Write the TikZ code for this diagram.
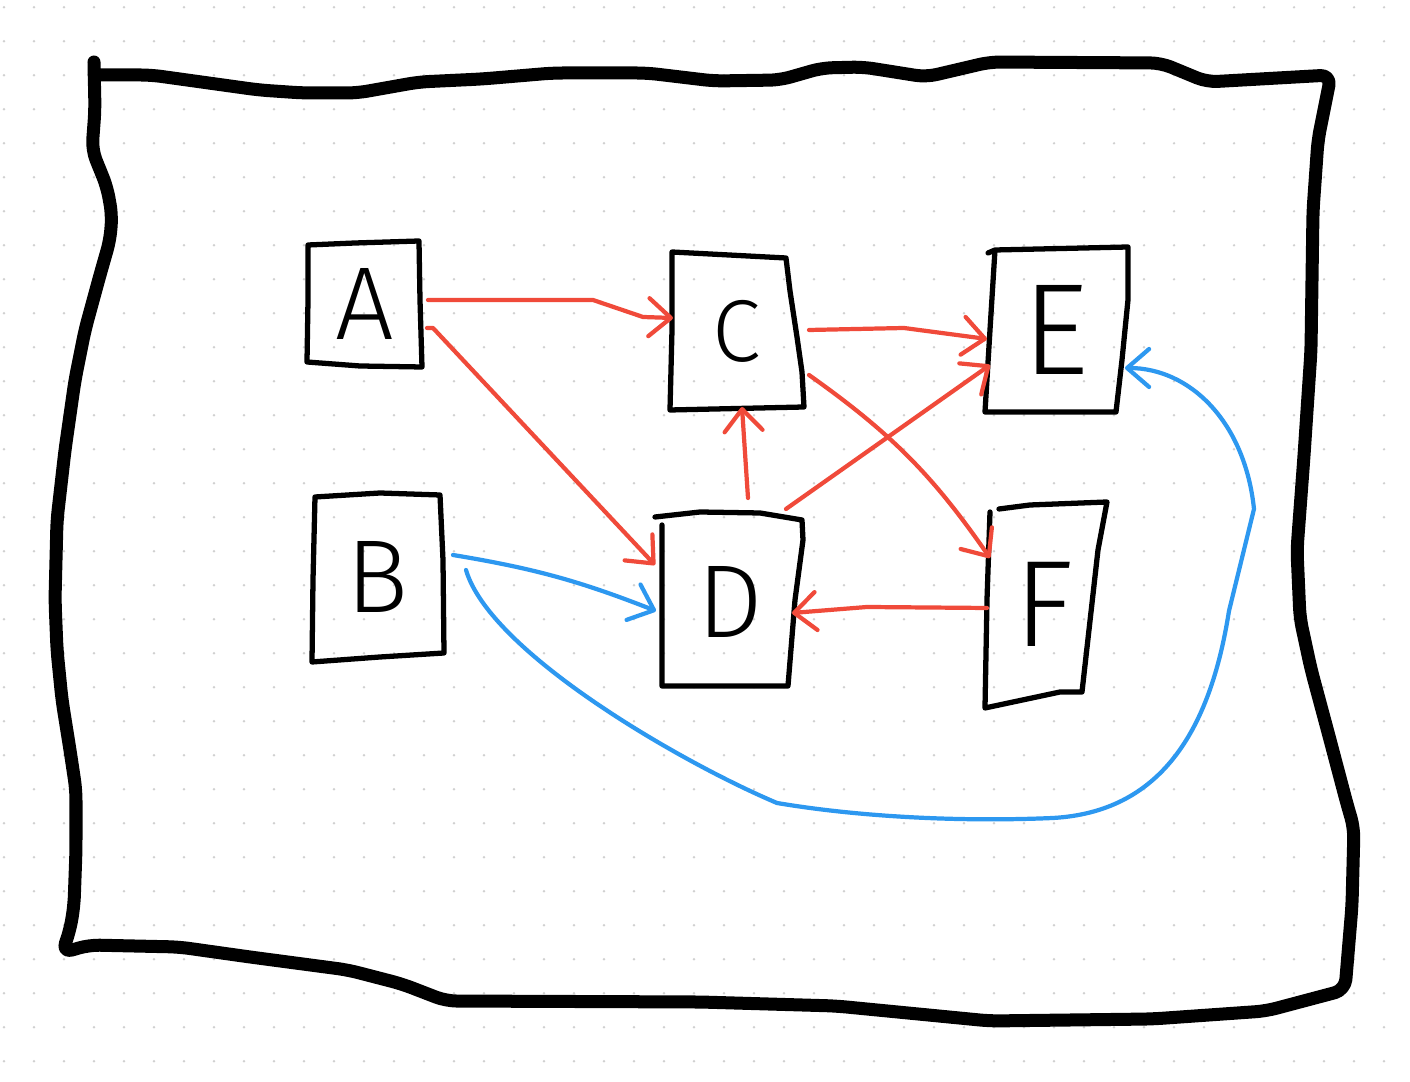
\documentclass[tikz,border=0pt]{standalone}
\usepackage{fontspec}
\newfontfamily\handfont{Fira Sans Light}
\usetikzlibrary{arrows.meta}
\definecolor{penred}{RGB}{240,74,58}
\definecolor{penblue}{RGB}{45,152,240}
\definecolor{dotgray}{RGB}{208,208,208}
\begin{document}
\begin{tikzpicture}[
    box/.style={line width=1.5pt,line join=round,line cap=round},
    frame/.style={line width=3.7pt,line join=round,line cap=round,rounded corners=3pt},
    letter/.style={inner sep=0pt,outer sep=0pt,font=\handfont\fontsize{#1}{#1}\selectfont},
    pen/.style={line width=1.2pt,line cap=round,line join=round,-{Straight Barb[length=2.2mm,width=3.8mm,round]}},
    redpen/.style={pen,penred},
    bluepen/.style={pen,penblue}]
    \useasboundingbox (0,0) rectangle (14.1,10.82);
    \fill[white] (0,0) rectangle (14.1,10.82);
    \foreach \i in {0,...,46} {
        \foreach \j in {0,...,31} {
            \fill[dotgray] (0.04+0.3*\i,10.747-0.34*\j) circle[radius=0.013];
        }
    }
    \draw[frame] (0.94,10.20) -- (0.95,9.72) -- (0.92,9.32) -- (1.07,8.95) -- (1.12,8.67) -- (1.10,8.42) -- (1.00,8.07) -- (0.85,7.52) -- (0.75,7.02) -- (0.65,6.32) -- (0.57,5.62) -- (0.55,4.82) -- (0.57,4.32) -- (0.62,3.82) -- (0.70,3.32) -- (0.76,2.92) -- (0.76,2.32) -- (0.74,1.76) -- (0.70,1.52) -- (0.62,1.29)
        -- (0.89,1.37) -- (1.79,1.35) -- (2.50,1.25) -- (3.48,1.12) -- (4.02,0.98) -- (4.46,0.81) -- (7.00,0.80) -- (8.36,0.76) -- (9.90,0.61) -- (11.52,0.63) -- (12.66,0.71) -- (13.45,0.92)
        -- (13.52,1.76) -- (13.54,2.54) -- (13.47,2.78) -- (13.29,3.46) -- (13.11,4.13) -- (13.00,4.64) -- (12.97,5.32) -- (13.04,6.26) -- (13.11,7.31) -- (13.13,8.71) -- (13.18,9.42) -- (13.31,10.07)
        -- (12.07,10.00) -- (11.61,10.19) -- (9.90,10.20) -- (9.26,10.05) -- (8.63,10.15) -- (8.22,10.14) -- (7.80,10.02) -- (7.14,10.01) -- (6.47,10.09) -- (5.53,10.09) -- (4.82,10.03) -- (4.19,10.00) -- (3.57,9.89) -- (3.03,9.89) -- (2.59,9.92) -- (1.51,10.07) -- (0.94,10.07);
    \node[letter=29.5,minimum width=1.13cm,minimum height=1.22cm] (A) at (3.65,7.78) {A};
    \node[letter=29.5,minimum width=1.30cm,minimum height=1.64cm] (B) at (3.78,5.05) {B};
    \node[letter=25,minimum width=1.32cm,minimum height=1.56cm] (C) at (7.37,7.51) {C};
    \node[letter=29.5,minimum width=1.38cm,minimum height=1.70cm] (D) at (7.30,4.80) {D};
    \node[letter=37,minimum width=1.38cm,minimum height=1.64cm] (E) at (10.56,7.52) {E};
    \node[letter=35,minimum width=1.12cm,minimum height=2.00cm] (F) at (10.44,4.78) {F};
    \draw[box] (3.08,8.37) -- (3.55,8.39) -- (4.19,8.41) -- (4.20,7.82) -- (4.22,7.15) -- (3.60,7.16) -- (3.07,7.20) -- (3.08,7.82) -- cycle;
    \draw[box] (3.15,5.85) -- (3.80,5.89) -- (4.40,5.87) -- (4.43,5.22) -- (4.44,4.29) -- (3.80,4.25) -- (3.12,4.20) -- (3.13,5.02) -- cycle;
    \draw[box] (6.72,8.30) -- (7.86,8.24) -- (7.90,7.91) -- (7.97,7.45) -- (8.02,7.10) -- (8.04,6.75) -- (6.70,6.72) -- (6.72,7.52) -- cycle;
    \draw[box] (6.55,5.65) -- (7.00,5.70) -- (7.60,5.69) -- (8.02,5.62) -- (8.03,5.42) -- (7.95,4.82) -- (7.88,3.96) -- (6.62,3.96) -- (6.62,5.57);
    \draw[box] (9.88,8.29) -- (9.95,8.32) -- (11.28,8.35) -- (11.28,7.82) -- (11.22,7.22) -- (11.16,6.70) -- (9.85,6.70) -- (9.90,7.52) -- (9.95,8.32);
    \draw[box] (9.99,5.73) -- (10.30,5.77) -- (11.07,5.80) -- (10.98,5.32) -- (10.82,3.90) -- (10.60,3.90) -- (9.85,3.74) -- (9.87,4.82) -- (9.90,5.70);
    \draw[redpen] ([shift={(0.065,0.04)}]A.east) -- ++(1.65,0) -- ++(0.5,-0.17) -- ([shift={(0.02,0.13)}]C.west);
    \draw[redpen] ([shift={(0.055,-0.24)}]A.east) -- ++(0.06,0) -- ([shift={(-0.06,0.37)}]D.west);
    \draw[redpen] ([shift={(0.06,0.01)}]C.east) -- ++(0.95,0.02) -- ([shift={(0,-0.09)}]E.west);
    \draw[redpen] ([shift={(0.06,-0.44)}]C.east) to[bend left=10] ([shift={(0.02,0.46)}]F.west);
    \draw[redpen] ([shift={(-0.13,0.08)}]D.north east) -- ([shift={(0.03,-0.35)}]E.west);
    \draw[redpen] ([shift={(0.18,0.19)}]D.north) -- ([shift={(0.05,0.02)}]C.south);
    \draw[redpen] ([shift={(-0.01,-0.04)}]F.west) -- ++(-1.2,0.01) -- ([shift={(-0.07,-0.11)}]D.east);
    \draw[bluepen] ([shift={(0.10,0.22)}]B.east) to[bend left=6] ([shift={(-0.05,-0.09)}]D.west);
    \draw[bluepen] ([shift={(0.23,0.07)}]B.east) .. controls (4.9,4.3) and (6.8,3.2) .. (7.77,2.79) .. controls (8.6,2.65) and (9.6,2.6) .. (10.53,2.64) .. controls (11.6,2.7) and (12.1,3.5) .. (12.29,4.71) -- (12.54,5.73) .. controls (12.45,6.6) and (11.9,7.14) .. ([shift={(0,-0.38)}]E.east);
\end{tikzpicture}
\end{document}
